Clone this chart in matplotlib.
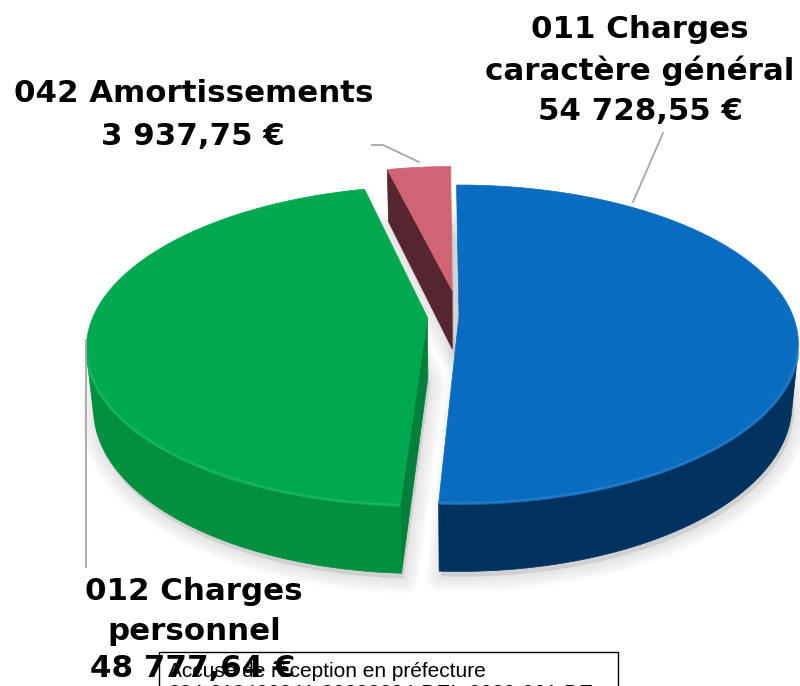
import numpy as np
import matplotlib
matplotlib.use('Agg')
import matplotlib.pyplot as plt
from matplotlib.patches import Polygon, Rectangle

# ---------------- data ----------------
categories = ['011 Charges', '012 Charges', '042 Amortissements']
category_sub = ['caractère général', 'personnel', '']
values = [54728.55, 48777.64, 3937.75]
value_labels = ['54 728,55 €', '48 777,64 €', '3 937,75 €']
explode = [0.0, 0.095, 0.172]
top_colors = ['#0A6CC1', '#00A94F', '#D16474']
rim_colors = ['#2F86D2', '#22BE66', '#D87A88']
side_colors = ['#003260', '#009040', '#5C2730']
radial_colors = ['#002A52', '#00803A', '#552530']

stamp_lines = ['Accusé de réception en préfecture',
               '084-218400341-20200224-DEL-2020-021-DE']

# ---------------- 3D projection ----------------
CX, CY = 459, 316
S = 334.0
D = 5.0
ELEV = np.radians(27.5)
H = 0.205
START = -0.5
CAM = np.array([0.0, -D * np.cos(ELEV), D * np.sin(ELEV)])


def proj(X, Y, Z):
    depth = D + Y * np.cos(ELEV) - Z * np.sin(ELEV)
    up = Y * np.sin(ELEV) + Z * np.cos(ELEV)
    return CX + S * D * X / depth, CY - S * D * up / depth


def facing(normal, point):
    return np.dot(normal, CAM - np.asarray(point))


fig = plt.figure(figsize=(8.0, 6.86), dpi=100)
ax = fig.add_axes([0, 0, 1, 1])
ax.set_xlim(0, 800)
ax.set_ylim(686, 0)
ax.axis('off')

total = sum(values)
spans = [v / total * 360 for v in values]
bounds = []
a = START
for sp in spans:
    bounds.append((a, a + sp))
    a += sp

slices = []
for i, (a0, a1) in enumerate(bounds):
    mid = np.radians((a0 + a1) / 2)
    ox, oy = explode[i] * np.sin(mid), explode[i] * np.cos(mid)
    th = np.radians(np.linspace(a0, a1, 300))
    X = ox + np.sin(th)
    Y = oy + np.cos(th)
    tx, ty = proj(X, Y, 0 * th)
    bx, by = proj(X, Y, 0 * th - H)
    # outward normal of the curved side faces the camera?
    vis = (np.sin(th) * (CAM[0] - X) + np.cos(th) * (CAM[1] - Y)) > 0
    ax_t, ay_t = proj(ox, oy, 0.0)
    ax_b, ay_b = proj(ox, oy, -H)
    slices.append(dict(i=i, a0=np.radians(a0), a1=np.radians(a1), ox=ox, oy=oy,
                       th=th, tx=tx, ty=ty, bx=bx, by=by, vis=vis,
                       apt=(ax_t, ay_t), apb=(ax_b, ay_b),
                       depth=oy + np.cos(mid) * 0.5))

# soft shadow
for s in slices:
    poly = np.vstack([[s['apb']], np.column_stack([s['bx'], s['by']])])
    for k in range(6):
        ax.add_patch(Polygon(poly + np.array([2, 5]), closed=True,
                             facecolor='#808080', edgecolor='#808080',
                             lw=2 + 4 * k, alpha=0.035, zorder=1,
                             joinstyle='round'))

order = sorted(slices, key=lambda s: -s['depth'])
z = 2
for s in order:
    i = s['i']
    # radial faces
    for ang, sign in ((s['a0'], -1), (s['a1'], 1)):
        normal = sign * np.array([np.cos(ang), -np.sin(ang), 0.0])
        p = np.array([s['ox'] + 0.5 * np.sin(ang), s['oy'] + 0.5 * np.cos(ang), -H / 2])
        if facing(normal, p) > 0.1:
            ox_t, oy_t = proj(s['ox'] + np.sin(ang), s['oy'] + np.cos(ang), 0.0)
            ox_b, oy_b = proj(s['ox'] + np.sin(ang), s['oy'] + np.cos(ang), -H)
            quad = [s['apt'], (ox_t, oy_t), (ox_b, oy_b), s['apb']]
            ax.add_patch(Polygon(quad, closed=True, facecolor=radial_colors[i],
                                 edgecolor=radial_colors[i], lw=0.5, zorder=z))
    # outer curved side (visible part only)
    v = s['vis']
    if v.sum() > 1:
        band = np.vstack([np.column_stack([s['tx'][v], s['ty'][v]]),
                          np.column_stack([s['bx'][v][::-1], s['by'][v][::-1]])])
        ax.add_patch(Polygon(band, closed=True, facecolor=side_colors[i],
                             edgecolor=side_colors[i], lw=0.5, zorder=z))
    # top face
    top = np.vstack([[s['apt']], np.column_stack([s['tx'], s['ty']])])
    ax.add_patch(Polygon(top, closed=True, facecolor=top_colors[i],
                         edgecolor=top_colors[i], lw=0.5, zorder=z + 1))
    # light bevel on the visible rim
    if v.sum() > 1:
        ax.plot(s['tx'][v], s['ty'][v], color=rim_colors[i], lw=2.2,
                alpha=0.6, solid_capstyle='butt', zorder=z + 1)
    z += 2

# leader lines
lc = '#A6A6A6'
ax.plot([663, 633], [133, 202], color=lc, lw=1.3, zorder=20)
ax.plot([372, 383, 419], [145, 145, 162], color=lc, lw=1.3, zorder=20)
ax.plot([86, 86], [340, 567], color=lc, lw=1.3, zorder=20)

# labels
lab = dict(fontfamily='DejaVu Sans', fontweight='bold', fontsize=22.2,
           color='black', ha='center', va='baseline', zorder=30)
ax.text(640, 38, categories[0], **lab)
ax.text(640, 80, category_sub[0], **lab)
ax.text(640, 120, value_labels[0], **lab)

ax.text(194, 102, categories[2], **lab)
ax.text(193, 145, value_labels[2], **lab)

ax.text(194, 600, categories[1], **lab)
ax.text(194, 640, category_sub[1], **lab)
ax.text(193, 677, value_labels[1], **lab)

# stamp box
ax.add_patch(Rectangle((159, 652), 459, 60, facecolor='white',
                       edgecolor='black', lw=1.0, zorder=25))
ax.text(168, 677, stamp_lines[0], fontfamily='Liberation Sans', fontsize=15,
        ha='left', va='baseline', color='black', zorder=35)
ax.text(168, 699, stamp_lines[1], fontfamily='Liberation Sans', fontsize=15,
        ha='left', va='baseline', color='black', zorder=35)

fig.savefig('out.png', dpi=100)
